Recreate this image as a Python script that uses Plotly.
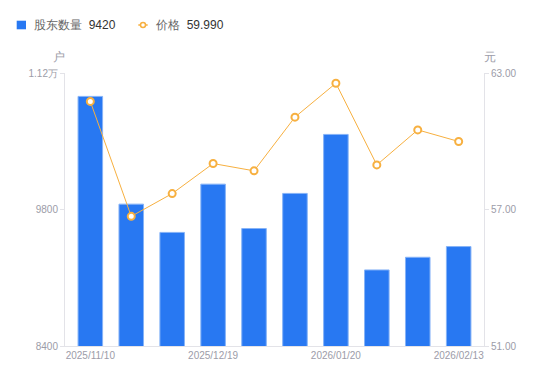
import plotly.graph_objects as go

dates = ["2025/11/10", "2025/11/20", "2025/11/30", "2025/12/19", "2025/12/31",
         "2026/01/09", "2026/01/20", "2026/01/30", "2026/02/06", "2026/02/13"]
holders = [10960, 9855, 9565, 10060, 9605, 9965, 10570, 9180, 9310, 9420]
prices = [61.75, 56.70, 57.70, 59.02, 58.70, 61.06, 62.55, 58.96, 60.50, 59.99]
shown_dates = ["2025/11/10", "2025/12/19", "2026/01/20", "2026/02/13"]
left_ticks = [8400, 9800, 11200]
left_text = ["8400", "9800", "1.12万"]
right_ticks = [51, 57, 63]

W, H = 550, 381
L, R, T, B = 65, 66, 73, 35
PW, PH = W - L - R, H - T - B

def px(x):
    return (x - L) / PW

def py(y):
    return 1 - (y - T) / PH

BLUE = "#2878f2"
ORANGE = "#f7b040"
TICK = "#9c9ca8"
AXIS = "#e3e3e8"

fig = go.Figure()
fig.add_trace(go.Bar(x=dates, y=holders, name="股东数量", marker=dict(color=BLUE, line=dict(color="#86b3f7", width=1)),
                     yaxis="y", showlegend=False, hoverinfo="skip"))
fig.add_trace(go.Scatter(x=dates, y=prices, name="价格", mode="lines+markers", yaxis="y2",
                         line=dict(color=ORANGE, width=1),
                         marker=dict(size=7, color="white", line=dict(color=ORANGE, width=2)),
                         showlegend=False, hoverinfo="skip"))

fig.update_layout(
    template="none",
    width=W, height=H, margin=dict(l=L, r=R, t=T, b=B, pad=0),
    paper_bgcolor="white", plot_bgcolor="white",
    font=dict(family="Liberation Sans, Arial, sans-serif", size=10, color=TICK),
    bargap=0.4,
    xaxis=dict(type="category", tickmode="array", tickvals=shown_dates, ticktext=shown_dates,
               showline=True, linecolor=AXIS, linewidth=1, ticks="", showgrid=False, automargin=False,
               tickfont=dict(size=10, color=TICK)),
    yaxis=dict(range=[8400, 11200], tickvals=left_ticks, ticktext=left_text, showgrid=False, automargin=False,
               showline=True, linecolor=AXIS, linewidth=1, ticks="outside", ticklen=4, tickcolor=AXIS,
               tickfont=dict(size=10, color=TICK), zeroline=False),
    yaxis2=dict(range=[51, 63], tickvals=right_ticks, tickformat=".2f", overlaying="y", side="right",
                showgrid=False, showline=True, linecolor=AXIS, linewidth=1, ticks="outside", ticklen=4,
                automargin=False, tickcolor=AXIS, tickfont=dict(size=10, color=TICK), zeroline=False),
    showlegend=False,
)

# custom legend (header)
fig.add_shape(type="rect", xref="paper", yref="paper", x0=px(16.7), x1=px(26), y0=py(20.7), y1=py(29.3),
              fillcolor=BLUE, line=dict(width=0))
fig.add_shape(type="line", xref="paper", yref="paper", x0=px(138.3), x1=px(147.7), y0=py(25), y1=py(25),
              line=dict(color=ORANGE, width=1.5))
fig.add_shape(type="circle", xref="paper", yref="paper", x0=px(140.5), x1=px(145.5), y0=py(22.5), y1=py(27.5),
              fillcolor="white", line=dict(color=ORANGE, width=1.5))
fig.add_annotation(xref="paper", yref="paper", x=px(31.5), y=py(25), xanchor="left", yanchor="middle",
                   showarrow=False, font=dict(size=12, color="#333333"),
                   text="<span style='color:#666666'>股东数量</span>\u00a0\u00a09420")
fig.add_annotation(xref="paper", yref="paper", x=px(153), y=py(25), xanchor="left", yanchor="middle",
                   showarrow=False, font=dict(size=12, color="#333333"),
                   text="<span style='color:#666666'>价格</span>\u00a0\u00a059.990")
fig.add_annotation(xref="paper", yref="paper", x=px(58.7), y=py(57), xanchor="center", yanchor="middle",
                   showarrow=False, font=dict(size=12, color=TICK), text="户")
fig.add_annotation(xref="paper", yref="paper", x=px(490), y=py(57), xanchor="center", yanchor="middle",
                   showarrow=False, font=dict(size=12, color=TICK), text="元")

fig.write_html("out.html", config={"displayModeBar": False},
               post_script="document.body.style.margin='0';")
